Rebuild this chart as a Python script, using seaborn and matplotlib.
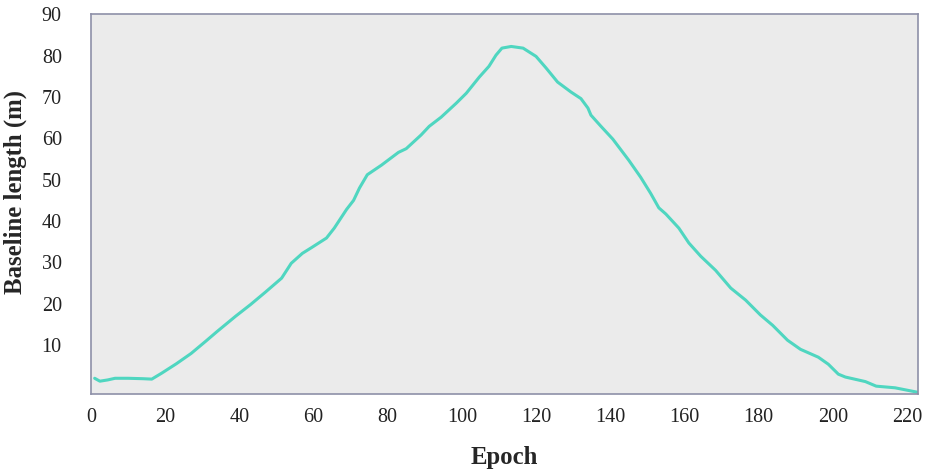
import matplotlib
matplotlib.use("Agg")
import matplotlib.pyplot as plt
import seaborn as sns
import pandas as pd

epoch = [1, 2.4, 4.5, 6.5, 10, 14, 16.4, 19, 23, 27, 31, 34, 39, 43, 47, 51.4, 54, 57,
         59.5, 63.5, 65.6, 68.9, 70.8, 72.4, 74.5, 78.3, 82.9, 85, 89, 91.2, 94.4, 98.5,
         101.2, 104.7, 107.3, 109.2, 110.8, 113.3, 116.5, 120, 122.7, 125.8, 129.4,
         132.1, 134, 134.8, 137.5, 140.7, 145, 148.2, 150.9, 153.1, 155, 158.5, 161.2,
         164.4, 168.4, 172.5, 176.5, 180.5, 183.8, 187.8, 191.3, 196.1, 198.8, 201.5,
         203.4, 208.8, 211.7, 216.8, 223]
baseline = [2.0, 1.3, 1.6, 2.0, 2.0, 1.9, 1.8, 3.2, 5.5, 8.0, 11.0, 13.3, 17.0, 19.8,
            22.8, 26.2, 29.8, 32.2, 33.6, 35.9, 38.3, 42.8, 45.0, 48.0, 51.2, 53.5,
            56.6, 57.5, 60.8, 62.9, 65.1, 68.5, 70.9, 74.8, 77.4, 80.1, 81.8, 82.2,
            81.8, 79.8, 77.0, 73.6, 71.2, 69.6, 67.3, 65.6, 62.9, 59.8, 54.7, 50.6,
            46.7, 43.2, 41.7, 38.3, 34.7, 31.5, 28.1, 23.8, 20.9, 17.3, 14.8, 11.2,
            9.0, 7.1, 5.4, 3.0, 2.3, 1.2, 0.1, -0.3, -1.4]

x_ticks = [0, 20, 40, 60, 80, 100, 120, 140, 160, 180, 200, 220]
y_ticks = [10, 20, 30, 40, 50, 60, 70, 80, 90]

df = pd.DataFrame({"Epoch": epoch, "Baseline": baseline})

sns.set_style("white")
plt.rcParams["font.family"] = ["Liberation Serif", "DejaVu Serif"]

fig = plt.figure(figsize=(9.33, 4.73), dpi=100)
ax = fig.add_axes([0.0975, 0.167, 0.8865, 0.803])
ax.set_facecolor("#ebebeb")

sns.lineplot(data=df, x="Epoch", y="Baseline", ax=ax, color="#4fd6c0",
             linewidth=2.2, solid_capstyle="round", solid_joinstyle="round")

ax.set_xlim(0, 223)
ax.set_ylim(-1.8, 90)
ax.set_xticks(x_ticks)
ax.set_yticks(y_ticks)
ax.tick_params(axis="both", length=0, labelsize=14.5, colors="#222222")
ax.tick_params(axis="y", pad=21)
ax.tick_params(axis="x", pad=10)
for s in ax.spines.values():
    s.set_color("#8e90a8")
    s.set_linewidth(1.2)
    s.set_visible(True)

ax.set_xlabel("Epoch", fontsize=17.8, fontweight="bold", labelpad=14)
ax.set_ylabel("Baseline length (m)", fontsize=17.8, fontweight="bold")
ax.yaxis.set_label_coords(-0.077, 0.533)
ax.grid(False)

fig.savefig("out.png", dpi=100)
